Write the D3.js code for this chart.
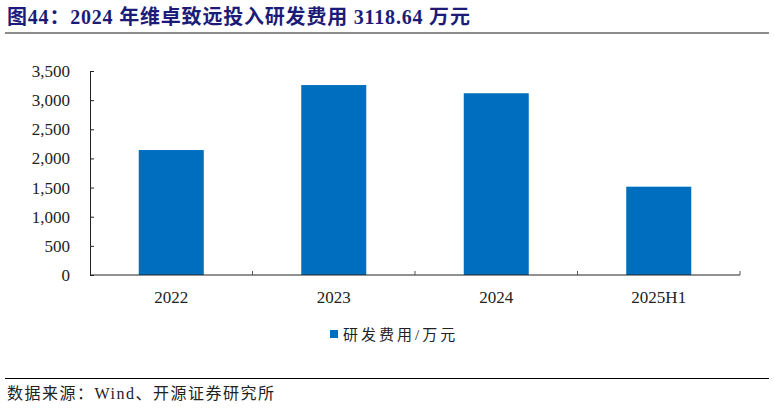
<!DOCTYPE html>
<html>
<head>
<meta charset="utf-8">
<script src="https://cdn.jsdelivr.net/npm/d3@7"></script>
<style>
  body { margin: 0; background: #fff; }
  text { font-family: "Liberation Serif", "Noto Sans CJK SC", serif; }
</style>
</head>
<body>
<script>
const width = 774;
const height = 408;
const margin = { top: 71, right: 34, bottom: 133, left: 90 };

const categories = ["2022", "2023", "2024", "2025H1"];
const values = [2144, 3259, 3118.64, 1515];
const yTicks = [0, 500, 1000, 1500, 2000, 2500, 3000, 3500];
const seriesName = "研发费用/万元";

const chartWidth = width - margin.left - margin.right;
const chartHeight = height - margin.top - margin.bottom;

const svg = d3.select("body")
  .append("svg")
  .attr("width", width)
  .attr("height", height);

// title
svg.append("text")
  .attr("x", 7)
  .attr("y", 24)
  .attr("font-size", 20)
  .attr("font-weight", "bold")
  .attr("letter-spacing", 0.8)
  .attr("fill", "#1c1c78")
  .text("图44：2024 年维卓致远投入研发费用 3118.64 万元");

svg.append("line")
  .attr("x1", 5).attr("x2", 769)
  .attr("y1", 33).attr("y2", 33)
  .attr("stroke", "#8c8c8c")
  .attr("stroke-width", 2);

const g = svg.append("g")
  .attr("transform", `translate(${margin.left}, ${margin.top})`);

const x = d3.scaleBand()
  .domain(categories)
  .range([0, chartWidth])
  .paddingInner(0.6)
  .paddingOuter(0.3);

const xEdge = d3.scaleBand()
  .domain(categories)
  .range([0, chartWidth]);

const y = d3.scaleLinear()
  .domain([0, 3500])
  .range([chartHeight, 0]);

g.selectAll("rect.bar")
  .data(values)
  .enter()
  .append("rect")
    .attr("class", "bar")
    .attr("x", (d, i) => x(categories[i]))
    .attr("y", d => y(d))
    .attr("width", x.bandwidth())
    .attr("height", d => chartHeight - y(d))
    .attr("fill", "#006ebe");

// y axis
const yAxis = d3.axisRight(y)
  .tickValues(yTicks)
  .tickSize(4)
  .tickFormat(d3.format(","));
const yg = g.append("g").call(yAxis);
yg.select(".domain").attr("stroke", "#222");
yg.selectAll(".tick line").attr("stroke", "#222");
yg.selectAll(".tick text")
  .attr("x", -20)
  .attr("text-anchor", "end")
  .attr("font-size", 17)
  .attr("fill", "#222");

// x axis
const xg = g.append("g")
  .attr("transform", `translate(0, ${chartHeight})`);
xg.append("line")
  .attr("x1", 0).attr("x2", chartWidth)
  .attr("stroke", "#222");
xg.selectAll("line.sep")
  .data(categories)
  .enter()
  .append("line")
    .attr("class", "sep")
    .attr("x1", d => xEdge(d) + xEdge.bandwidth())
    .attr("x2", d => xEdge(d) + xEdge.bandwidth())
    .attr("y1", 0).attr("y2", -4)
    .attr("stroke", "#555");
xg.selectAll("text")
  .data(categories)
  .enter()
  .append("text")
    .attr("x", d => xEdge(d) + xEdge.bandwidth() / 2)
    .attr("y", 28)
    .attr("text-anchor", "middle")
    .attr("font-size", 17)
    .attr("fill", "#222")
    .text(d => d);

// legend
svg.append("rect")
  .attr("x", 330).attr("y", 330)
  .attr("width", 8).attr("height", 8)
  .attr("fill", "#006ebe");
svg.append("text")
  .attr("x", 343)
  .attr("y", 340)
  .attr("font-size", 15)
  .attr("letter-spacing", 3)
  .attr("fill", "#222")
  .text(seriesName);

// footer
svg.append("line")
  .attr("x1", 5).attr("x2", 769)
  .attr("y1", 378.5).attr("y2", 378.5)
  .attr("stroke", "#000")
  .attr("stroke-width", 1);
svg.append("text")
  .attr("x", 7)
  .attr("y", 399)
  .attr("font-size", 16)
  .attr("letter-spacing", 1.5)
  .attr("fill", "#222")
  .text("数据来源：Wind、开源证券研究所");
</script>
</body>
</html>
